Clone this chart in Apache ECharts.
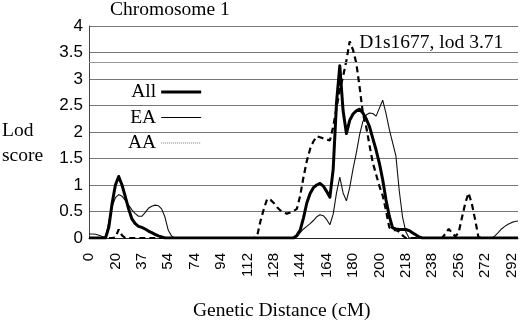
<!DOCTYPE html>
<html>
<head>
<meta charset="utf-8">
<script src="https://cdn.jsdelivr.net/npm/echarts@6/dist/echarts.min.js"></script>
<style>
  html, body { margin: 0; padding: 0; background: #fff; }
  #chart { width: 520px; height: 322px; }
</style>
</head>
<body>
<div id="chart"></div>
<script>
// cM positions printed under the axis, one every 8 map steps
const tickLabels = ["0", "20", "37", "54", "74", "94", "112", "128", "144",
  "164", "180", "200", "218", "238", "256", "272", "292"];
const stepsPerTick = 8;

// lod scores per map step
const allLod = [
  0, 0, 0, 0, 0, 0, 0.2, 0.65, 1.0, 1.16,
  1.0, 0.78, 0.55, 0.36, 0.27, 0.22, 0.2, 0.17, 0.13, 0.1,
  0.07, 0.04, 0.02, 0, 0, 0, 0, 0, 0, 0,
  0, 0, 0, 0, 0, 0, 0, 0, 0, 0,
  0, 0, 0, 0, 0, 0, 0, 0, 0, 0,
  0, 0, 0, 0, 0, 0, 0, 0, 0, 0,
  0, 0, 0, 0.05, 0.15, 0.38, 0.66, 0.84, 0.95, 1.0,
  1.03, 0.98, 0.88, 0.77, 1.3, 2.55, 3.25, 2.4, 1.97, 2.22,
  2.34, 2.4, 2.43, 2.36, 2.25, 2.1, 1.88, 1.66, 1.41, 1.1,
  0.72, 0.41, 0.19, 0.17, 0.16, 0.16, 0.16, 0.14, 0.1, 0.06,
  0.02, 0, 0, 0, 0, 0, 0, 0, 0, 0,
  0, 0, 0, 0, 0, 0, 0, 0, 0, 0,
  0, 0, 0, 0, 0, 0, 0, 0, 0, 0,
  0
];
const eaLod = [
  0.075, 0.075, 0.07, 0.05, 0.03, 0.01, 0.3, 0.6, 0.76, 0.82,
  0.79, 0.71, 0.62, 0.53, 0.46, 0.41, 0.41, 0.48, 0.56, 0.6,
  0.62, 0.61, 0.55, 0.4, 0.15, 0.04, 0, 0, 0, 0,
  0, 0, 0, 0, 0, 0, 0, 0, 0, 0,
  0, 0, 0, 0, 0, 0, 0, 0, 0, 0,
  0, 0, 0, 0, 0, 0, 0, 0, 0, 0,
  0, 0, 0, 0.02, 0.1, 0.17, 0.22, 0.27, 0.33, 0.4,
  0.44, 0.42, 0.35, 0.25, 0.45, 0.85, 1.15, 0.85, 0.7, 0.95,
  1.3, 1.6, 1.95, 2.2, 2.32, 2.36, 2.35, 2.3, 2.45, 2.6,
  2.35, 2.05, 1.8, 1.55, 0.9, 0.4, 0.12, 0, 0, 0,
  0, 0, 0, 0, 0, 0, 0, 0, 0, 0,
  0, 0, 0, 0, 0, 0, 0, 0, 0, 0,
  0, 0, 0, 0.04, 0.1, 0.17, 0.22, 0.26, 0.29, 0.31,
  0.32
];
const aaLod = [
  0, 0, 0, 0, 0, 0, 0, 0, 0.01, 0.16,
  0.05, 0, 0, 0, 0, 0, 0, 0, 0, 0,
  0, 0, 0, 0, 0, 0, 0, 0, 0, 0,
  0, 0, 0, 0, 0, 0, 0, 0, 0, 0,
  0, 0, 0, 0, 0, 0, 0, 0, 0, 0,
  0, 0.05, 0.33, 0.55, 0.74, 0.72, 0.66, 0.58, 0.52, 0.48,
  0.46, 0.48, 0.51, 0.55, 0.8, 1.15, 1.45, 1.68, 1.82, 1.92,
  1.9, 1.88, 1.86, 1.84, 2.1, 2.45, 2.8, 3.05, 3.35, 3.71,
  3.55, 3.3, 2.85, 2.35, 2.1, 1.75, 1.42, 1.2, 0.98, 0.8,
  0.52, 0.2, 0.15, 0.15, 0.12, 0.05, 0, 0, 0, 0,
  0, 0, 0, 0, 0, 0, 0, 0, 0.08, 0.17,
  0.1, 0.03, 0.1, 0.38, 0.65, 0.85, 0.65, 0.35, 0.02, 0,
  0, 0, 0, 0, 0, 0, 0, 0, 0, 0,
  0
];

const threshold = 3.31;
const peakMarker = "D1s1677";
const peakLod = 3.71;

const categories = allLod.map((_, i) =>
  i % stepsPerTick === 0 ? tickLabels[i / stepsPerTick] || "" : ""
);
const peakIndex = aaLod.indexOf(peakLod);

const serif = "'Liberation Serif', 'Times New Roman', serif";
const sans = "'Liberation Sans', Arial, sans-serif";

const chart = echarts.init(document.getElementById("chart"));

chart.setOption({
  animation: false,
  backgroundColor: "#fff",
  title: [
    {
      text: "Chromosome 1",
      left: 110, top: 0, padding: 0,
      textStyle: { fontFamily: serif, fontSize: 19.5, fontWeight: "normal", color: "#000", lineHeight: 20 },
    },
    {
      text: "Lod\nscore",
      left: 2, top: 118, padding: 0,
      textStyle: { fontFamily: serif, fontSize: 19.5, fontWeight: "normal", color: "#000", lineHeight: 25 },
    },
    {
      text: "Genetic Distance (cM)",
      left: 193, top: 301, padding: 0,
      textStyle: { fontFamily: serif, fontSize: 19.5, fontWeight: "normal", color: "#000", lineHeight: 20 },
    },
  ],
  legend: {
    orient: "vertical",
    left: 128, top: 82, padding: 0,
    align: "right",
    itemWidth: 40, itemHeight: 14, itemGap: 5.5,
    itemStyle: { opacity: 0, borderWidth: 0 },
    textStyle: { fontFamily: serif, fontSize: 19.5, color: "#000", lineHeight: 20 },
    data: [
      { name: "All", lineStyle: { width: 3, color: "#000" } },
      { name: "EA", lineStyle: { width: 1.2, color: "#000" } },
      { name: "AA", lineStyle: { width: 1, color: "#777", type: "dotted" } },
    ],
  },
  grid: { left: 89, right: 2, top: 26, bottom: 84, outerBoundsMode: "none" },
  xAxis: {
    type: "category",
    data: categories,
    boundaryGap: false,
    axisLine: { lineStyle: { color: "#222", width: 1 } },
    axisTick: { show: false },
    axisLabel: {
      interval: stepsPerTick - 1,
      rotate: 90,
      margin: 15,
      fontFamily: sans, fontSize: 15, color: "#000",
    },
    splitLine: { show: false },
  },
  yAxis: {
    type: "value",
    min: 0, max: 4, interval: 0.5,
    axisLine: { show: true, lineStyle: { color: "#444" } },
    axisTick: { show: false },
    axisLabel: { margin: 6, fontFamily: sans, fontSize: 17, color: "#000" },
    splitLine: { lineStyle: { color: "#777", width: 1 } },
  },
  series: [
    {
      name: "All",
      type: "line",
      data: allLod,
      symbol: "none",
      itemStyle: { color: "#000" },
      lineStyle: { color: "#000", width: 3, join: "round" },
      z: 4,
      markLine: {
        silent: true,
        symbol: "none",
        label: { show: false },
        lineStyle: { color: "#999", width: 1, type: "solid" },
        data: [{ yAxis: threshold }],
      },
    },
    {
      name: "EA",
      type: "line",
      data: eaLod,
      symbol: "none",
      itemStyle: { color: "#000" },
      lineStyle: { color: "#111", width: 1.1 },
      z: 3,
    },
    {
      name: "AA",
      type: "line",
      data: aaLod,
      symbol: "none",
      itemStyle: { color: "#000" },
      lineStyle: { color: "#000", width: 2.2, type: [6, 4] },
      z: 3,
      markPoint: {
        symbol: "circle",
        symbolSize: 1,
        itemStyle: { color: "rgba(0,0,0,0)" },
        data: [{ coord: [peakIndex, peakLod] }],
        label: {
          show: true,
          position: "right",
          distance: 9,
          offset: [0, 2],
          formatter: `${peakMarker}, lod ${peakLod}`,
          fontFamily: serif, fontSize: 19.5, color: "#000",
        },
      },
    },
  ],
});
</script>
</body>
</html>
